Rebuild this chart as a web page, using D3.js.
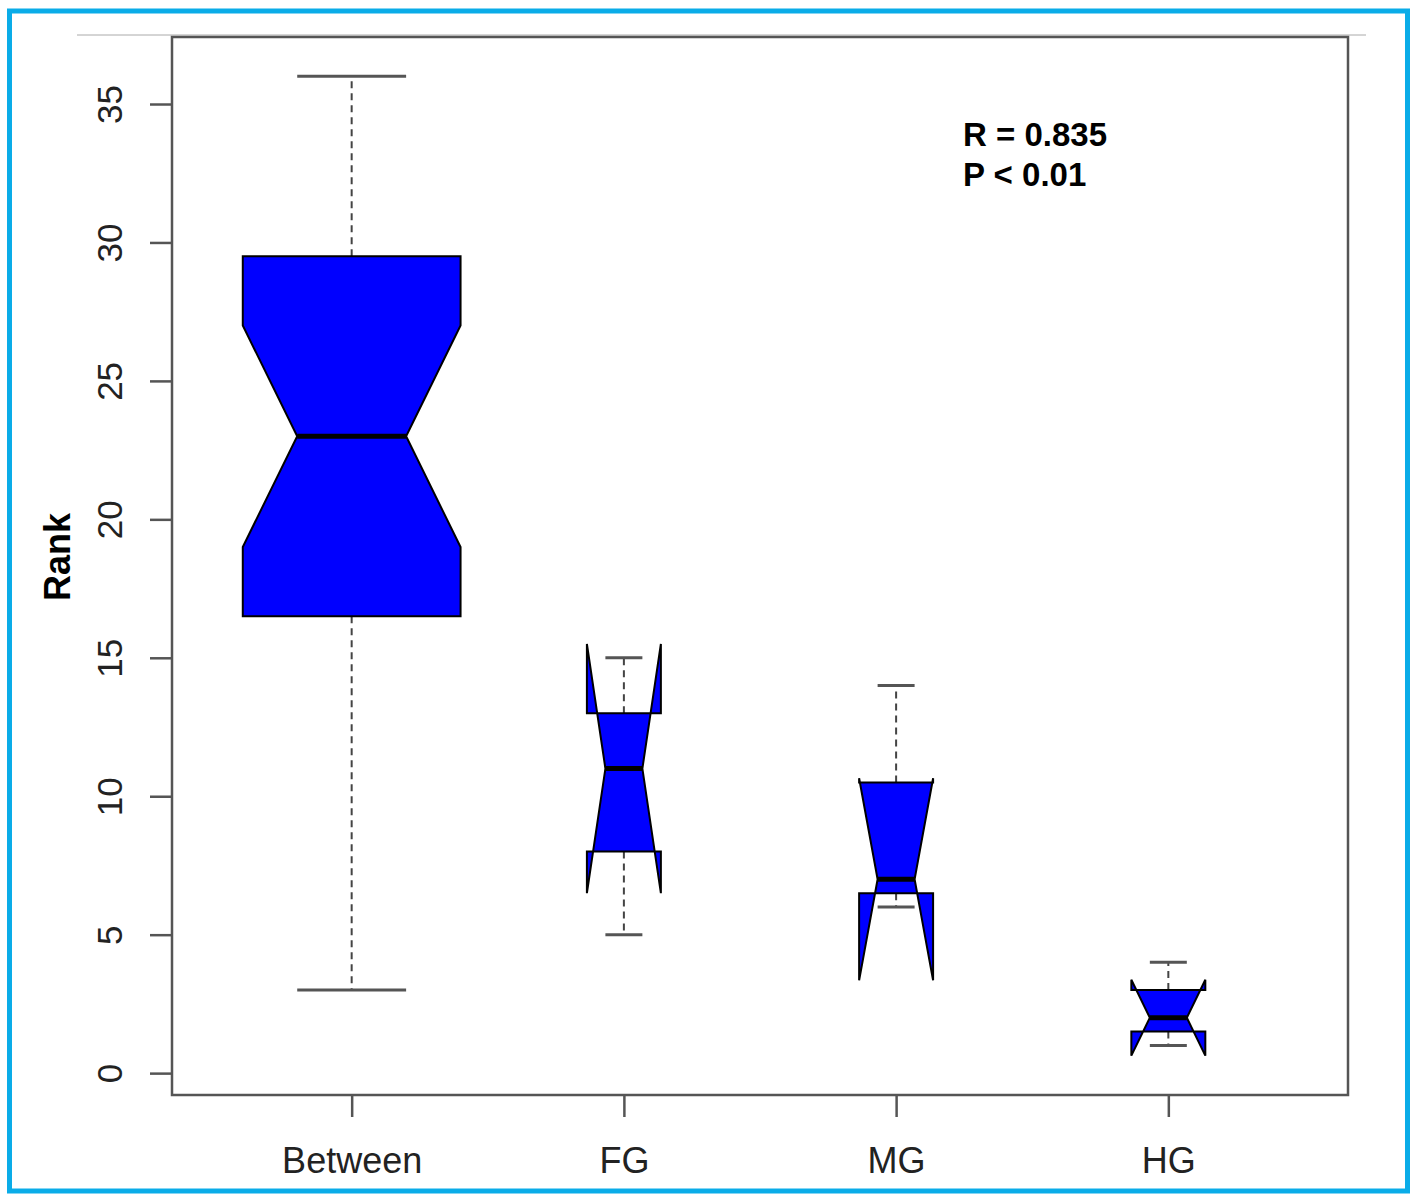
<!DOCTYPE html>
<html>
<head>
<meta charset="utf-8">
<script src="https://cdn.jsdelivr.net/npm/d3@7"></script>
<style>
  html, body { margin: 0; padding: 0; background: #fff; }
  svg { display: block; }
  text { font-family: "Liberation Sans", Arial, sans-serif; }
</style>
</head>
<body>
<div id="chart"></div>
<script>
// ---- data ----
const categories   = ["Between", "FG", "MG", "HG"];
const whiskerLow   = [3, 5, 6, 1];
const q1           = [16.5, 8, 6.5, 1.5];
const medians      = [23, 11, 7, 2];
const q3           = [29.5, 13, 10.5, 3];
const whiskerHigh  = [36, 15, 14, 4];
const notchLow     = [19, 6.5, 3.35, 0.63];
const notchHigh    = [27, 15.5, 10.65, 3.37];
const groupSize    = [26, 3, 3, 3];
const yTicks       = [0, 5, 10, 15, 20, 25, 30, 35];
const statText     = ["R = 0.835", "P < 0.01"];

const W = 1418, H = 1201;
const plot = { left: 172, right: 1348, top: 37, bottom: 1095 };

const svg = d3.select("#chart").append("svg")
  .attr("width", W).attr("height", H);

// outer frame
svg.append("rect")
  .attr("x", 9.5).attr("y", 11).attr("width", 1398).attr("height", 1180)
  .attr("fill", "none").attr("stroke", "#0AACE8").attr("stroke-width", 5);

// thin top rule
svg.append("line")
  .attr("x1", 77).attr("x2", 1366).attr("y1", 35).attr("y2", 35)
  .attr("stroke", "#aaa").attr("stroke-width", 1);

const x = d3.scaleLinear().domain([0.34, 4.66]).range([plot.left, plot.right]);
const y = d3.scaleLinear().domain([-0.79, 37.42]).range([plot.bottom, plot.top]);

const maxN = d3.max(groupSize);
const boxes = categories.map((c, i) => ({
  cat: c, pos: i + 1,
  half: 0.4 * Math.sqrt(groupSize[i] / maxN),
  lo: whiskerLow[i], q1: q1[i], med: medians[i], q3: q3[i], hi: whiskerHigh[i],
  nlo: notchLow[i], nhi: notchHigh[i]
}));

const g = svg.append("g");

boxes.forEach(b => {
  const xc = x(b.pos);
  const wb = x(b.pos + b.half) - xc;
  const wn = wb / 2;
  const ws = wb / 2;
  // whiskers (dashed)
  g.append("line").attr("x1", xc).attr("x2", xc)
    .attr("y1", y(b.q3)).attr("y2", y(b.hi))
    .attr("stroke", "#444").attr("stroke-width", 2).attr("stroke-dasharray", "7,5");
  g.append("line").attr("x1", xc).attr("x2", xc)
    .attr("y1", y(b.q1)).attr("y2", y(b.lo))
    .attr("stroke", "#444").attr("stroke-width", 2).attr("stroke-dasharray", "7,5");
  // caps
  [b.lo, b.hi].forEach(v => {
    g.append("line").attr("x1", xc - ws).attr("x2", xc + ws)
      .attr("y1", y(v)).attr("y2", y(v))
      .attr("stroke", "#555").attr("stroke-width", 3);
  });
  // notched box polygon (R bxp style)
  const pts = [
    [xc - wb, y(b.q1)], [xc - wb, y(b.nlo)], [xc - wn, y(b.med)], [xc - wb, y(b.nhi)], [xc - wb, y(b.q3)],
    [xc + wb, y(b.q3)], [xc + wb, y(b.nhi)], [xc + wn, y(b.med)], [xc + wb, y(b.nlo)], [xc + wb, y(b.q1)]
  ];
  g.append("path")
    .attr("d", d3.line()(pts) + "Z")
    .attr("fill", "#0000FF").attr("fill-rule", "nonzero")
    .attr("stroke", "#000").attr("stroke-width", 2).attr("stroke-linejoin", "miter");
  // median
  g.append("line").attr("x1", xc - wn).attr("x2", xc + wn)
    .attr("y1", y(b.med)).attr("y2", y(b.med))
    .attr("stroke", "#000").attr("stroke-width", 5);
});

// plot frame
svg.append("rect")
  .attr("x", plot.left).attr("y", plot.top)
  .attr("width", plot.right - plot.left).attr("height", plot.bottom - plot.top)
  .attr("fill", "none").attr("stroke", "#555").attr("stroke-width", 2.5);

// y axis
const yAxis = svg.append("g")
  .attr("transform", `translate(${plot.left},0)`)
  .call(d3.axisLeft(y).tickValues(yTicks).tickSize(22).tickFormat(d3.format("d")));
yAxis.select(".domain").remove();
yAxis.selectAll(".tick line").attr("stroke", "#555").attr("stroke-width", 2.5);
yAxis.selectAll(".tick text")
  .attr("transform", "rotate(-90)")
  .attr("x", 0).attr("y", -50).attr("dy", 0)
  .attr("text-anchor", "middle")
  .attr("fill", "#222")
  .style("font-size", "35px")
  .style("font-family", "'Liberation Sans', Arial, sans-serif");

// x axis
const xAxis = svg.append("g")
  .attr("transform", `translate(0,${plot.bottom})`)
  .call(d3.axisBottom(x).tickValues([1, 2, 3, 4]).tickSize(22)
    .tickFormat(d => categories[d - 1]));
xAxis.select(".domain").remove();
xAxis.selectAll(".tick line").attr("stroke", "#555").attr("stroke-width", 2.5);
xAxis.selectAll(".tick text")
  .attr("y", 78).attr("dy", 0)
  .attr("fill", "#222")
  .style("font-size", "36px")
  .style("font-family", "'Liberation Sans', Arial, sans-serif");

// y label
svg.append("text")
  .attr("transform", "translate(70,557) rotate(-90)")
  .attr("text-anchor", "middle")
  .attr("font-weight", "bold")
  .attr("font-size", 36)
  .attr("fill", "#000")
  .text("Rank");

// stats annotation
svg.append("g").selectAll("text").data(statText).join("text")
  .attr("x", 963).attr("y", (d, i) => 146 + i * 40)
  .attr("font-weight", "bold").attr("font-size", 33).attr("fill", "#000")
  .text(d => d);
</script>
</body>
</html>
